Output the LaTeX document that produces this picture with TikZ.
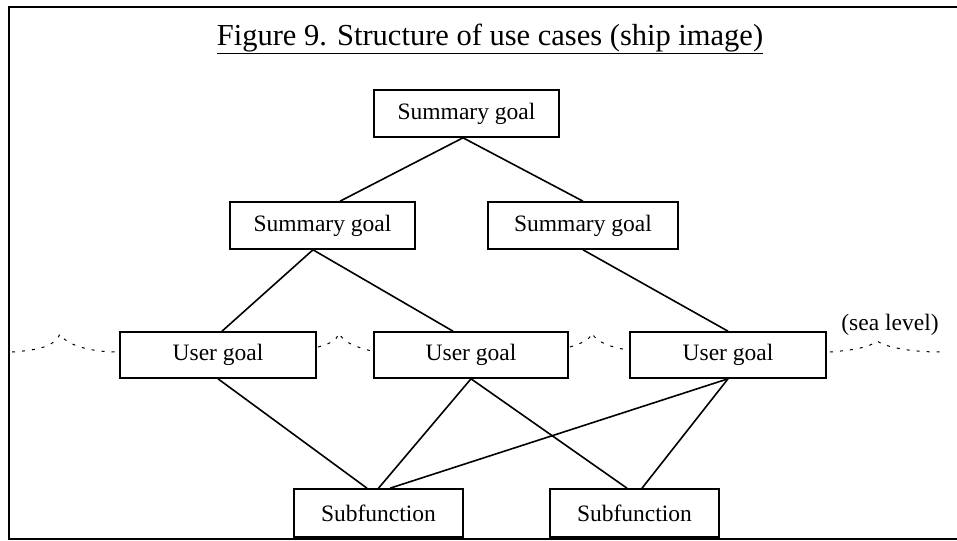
\documentclass[tikz,border=0pt]{standalone}
\usepackage{fontspec}
\setmainfont{Liberation Serif}
\begin{document}
\begin{tikzpicture}[x=1pt,y=-1pt,
  box/.style={draw,line width=1.6pt,inner sep=0pt,minimum height=47pt,font=\fontsize{23.5}{26}\selectfont},
  link/.style={line width=1.6pt},
  wave/.style={line width=1pt,dash pattern=on 3pt off 7pt},
  frame/.style={line width=2pt}]
\useasboundingbox (0,0) rectangle (957,540);
% frame
\draw[frame] (9,540) -- (9,7) -- (957,7);
\draw[frame] (9,539) -- (957,539);
% title
\node[font=\fontsize{30.5}{34}\selectfont,inner sep=0pt] (title) at (490,39) {\underline{Figure 9. Structure of use cases (ship image)}};
% boxes
\node[box,minimum width=185pt] (sg1) at (466.5,113.5) {Summary goal};
\node[box,minimum width=185pt] (sg2) at (322.5,225.5) {Summary goal};
\node[box,minimum width=190pt] (sg3) at (583,225.5) {Summary goal};
\node[box,minimum width=196pt,minimum height=46pt] (ug1) at (218,355) {User goal};
\node[box,minimum width=194pt,minimum height=46pt] (ug2) at (471,355) {User goal};
\node[box,minimum width=196pt,minimum height=46pt] (ug3) at (728,355) {User goal};
\node[box,minimum width=169pt,minimum height=48pt] (sf1) at (378.5,513) {Subfunction};
\node[box,minimum width=169pt,minimum height=48pt] (sf2) at (634.5,513) {Subfunction};
\node[font=\fontsize{23.5}{26}\selectfont,inner sep=0pt] (sea) at (890,325) {(sea level)};
% connectors
\draw[link] ([xshift=-3.5pt]sg1.south) -- ([xshift=17.5pt]sg2.north);
\draw[link] ([xshift=-3.5pt]sg1.south) -- (sg3.north);
\draw[link] ([xshift=-9.5pt]sg2.south) -- ([xshift=4pt]ug1.north);
\draw[link] ([xshift=-9.5pt]sg2.south) -- ([xshift=-18pt]ug2.north);
\draw[link] (sg3.south) -- (ug3.north);
\draw[link] (ug1.south) -- ([xshift=-11.5pt]sf1.north);
\draw[link] (ug2.south) -- (sf1.north);
\draw[link] (ug2.south) -- ([xshift=-7.5pt]sf2.north);
\draw[link] (ug3.south) -- ([xshift=11.5pt]sf1.north);
\draw[link] (ug3.south) -- ([xshift=7.5pt]sf2.north);
% sea level waves
\draw[wave] (12,352) .. controls (40,350) and (55,346) .. (60,334) .. controls (66,345) and (90,352) .. (118,352);
\draw[wave] (318,347) .. controls (330,344) and (337,340) .. (339,333) .. controls (343,342) and (355,347) .. (372,351);
\draw[wave] (570,347) .. controls (582,343) and (590,340) .. (592,333) .. controls (596,342) and (610,347) .. (628,350);
\draw[wave] (830,352) .. controls (855,350) and (870,347) .. (877,341) .. controls (885,347) and (910,352) .. (940,352);
\end{tikzpicture}
\end{document}
